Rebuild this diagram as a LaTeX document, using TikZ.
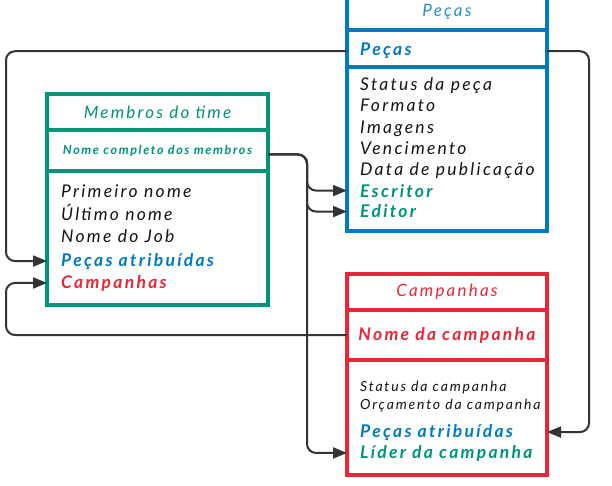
\documentclass[tikz,border=0pt]{standalone}
\usepackage{fontspec}
\setmainfont{Lato}[LetterSpace=13]
\usetikzlibrary{arrows.meta}
\definecolor{verde}{RGB}{0,148,120}
\definecolor{azul}{RGB}{0,122,193}
\definecolor{vermelho}{RGB}{232,38,56}
\definecolor{tinta}{RGB}{20,20,20}
\definecolor{traco}{RGB}{51,51,51}
\begin{document}
\begin{tikzpicture}[x=1pt,y=-1pt,
    campo/.style = {draw, line width=3.2pt, inner sep=0pt, outer sep=0pt, anchor=north west},
    titulo/.style = {font=\fontsize{17}{20}\selectfont\itshape},
    linha/.style = {anchor=base west, inner sep=0pt, text=tinta, font=\fontsize{17.5}{20}\selectfont\itshape},
    forte/.style = {font=\fontsize{17.5}{20}\selectfont\bfseries\itshape},
    ligacao/.style = {draw=traco, line width=2pt, rounded corners=9pt, -{Triangle[length=14pt,width=11pt]}}]
        \useasboundingbox (0,0) rectangle (612,486);
        \coordinate (trilhoEsq) at (6,0);
        \coordinate (trilhoMeio) at (307,0);
        \coordinate (trilhoDir) at (589,0);
        % Pecas
        \node[campo, draw=azul, minimum width=200pt, minimum height=37pt, titulo, text=azul!85] (pTitulo) at (347,-7) {Peças};
        \node[campo, draw=azul, minimum width=200pt, minimum height=37pt] (pChave) at (347,30) {};
        \node[campo, draw=azul, minimum width=200pt, minimum height=164pt] (pCorpo) at (347,67) {};
        \node[linha, forte, text=azul] (pChaveTxt) at (360,56) {Peças};
        \node[linha] (pStatus) at (360,91) {Status da peça};
        \node[linha] (pFormato) at (360,112) {Formato};
        \node[linha] (pImagens) at (360,134) {Imagens};
        \node[linha] (pVenc) at (360,155) {Vencimento};
        \node[linha] (pData) at (360,176) {Data de publicação};
        \node[linha, forte, text=verde] (pEscritor) at (360,197) {Escritor};
        \node[linha, forte, text=verde] (pEditor) at (360,218) {Editor};
        % Membros do time
        \node[campo, draw=verde, minimum width=221pt, minimum height=36pt, titulo, text=verde] (mTitulo) at (47,94) {Membros do time};
        \node[campo, draw=verde, minimum width=221pt, minimum height=41pt, text=verde,
            font=\fontsize{12.5}{14}\selectfont\bfseries\itshape] (mChave) at (47,130) {Nome completo dos membros};
        \node[campo, draw=verde, minimum width=221pt, minimum height=134pt] (mCorpo) at (47,171) {};
        \node[linha] (mPrimeiro) at (61,198) {Primeiro nome};
        \node[linha] (mUltimo) at (61,220) {Último nome};
        \node[linha] (mJob) at (61,242) {Nome do Job};
        \node[linha, forte, text=azul] (mPecas) at (61,266) {Peças atribuídas};
        \node[linha, forte, text=vermelho] (mCamp) at (61,288) {Campanhas};
        % Campanhas
        \node[campo, draw=vermelho, minimum width=200pt, minimum height=36pt, titulo, text=vermelho] (cTitulo) at (347,274) {Campanhas};
        \node[campo, draw=vermelho, minimum width=200pt, minimum height=50pt, text=vermelho,
            font=\fontsize{17.5}{20}\selectfont\bfseries\itshape] (cChave) at (347,310) {Nome da campanha};
        \node[campo, draw=vermelho, minimum width=200pt, minimum height=115pt] (cCorpo) at (347,360) {};
        \node[linha, font=\fontsize{14}{16}\selectfont\itshape] (cStatus) at (360,391) {Status da campanha};
        \node[linha, font=\fontsize{14}{16}\selectfont\itshape] (cOrc) at (360,409) {Orçamento da campanha};
        \node[linha, forte, text=azul] (cPecas) at (360,437) {Peças atribuídas};
        \node[linha, forte, text=verde] (cLider) at (360,458) {Líder da campanha};
        % ligacoes
        \draw[ligacao] (pChave.west |- pChaveTxt) -| (trilhoEsq |- mPecas) -- (mCorpo.west |- mPecas);
        \draw[ligacao] (pChave.east |- pChaveTxt) -| (trilhoDir |- cPecas) -- (cCorpo.east |- cPecas);
        \draw[ligacao] (cChave.west) -| (trilhoEsq |- mCamp) -- (mCorpo.west |- mCamp);
        \foreach \alvo/\caixa in {pEscritor/pCorpo, pEditor/pCorpo, cLider/cCorpo}
            \draw[ligacao] ([yshift=-4pt]mChave.east) -| (trilhoMeio |- \alvo) -- (\caixa.west |- \alvo);
    \end{tikzpicture}
\end{document}
